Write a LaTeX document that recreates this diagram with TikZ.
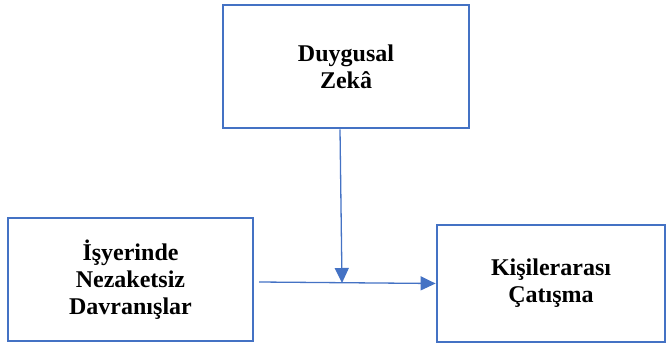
\documentclass[tikz,border=0pt]{standalone}
\usepackage{fontspec}
\setmainfont{Liberation Serif}
\usetikzlibrary{arrows.meta,positioning}
\definecolor{boxblue}{HTML}{4472C4}

\begin{document}
\begin{tikzpicture}[x=1pt,y=-1pt]
       \tikzstyle{every node}=[font=\bfseries\fontsize{24}{27}\selectfont, align=center]
       \tikzstyle{var}=[draw=boxblue, line width=2.8pt, rectangle, inner sep=0pt]
       \tikzstyle{link}=[draw=boxblue, line width=1.3pt, -{Triangle[length=15pt,width=14pt]}]

       \useasboundingbox (0,0) rectangle (668,347);

       \node[var, minimum width=246pt, minimum height=123pt] (zeka) at (346,66.5) {Duygusal\\Zekâ};
       \node[var, minimum width=245pt, minimum height=123pt] (nezaket) at (130.5,279.5) {İşyerinde\\Nezaketsiz\\Davranışlar};
       \node[var, minimum width=228pt, minimum height=117pt] (catisma) at (551,283.5) {Kişilerarası\\Çatışma};

       \coordinate (x_0) at (259,282);
       \coordinate (m_0) at (342,283);

       \path
       (x_0) edge [link] (catisma.west)
       ([xshift=-6pt]zeka.south) edge [link] (m_0);
\end{tikzpicture}
\end{document}
